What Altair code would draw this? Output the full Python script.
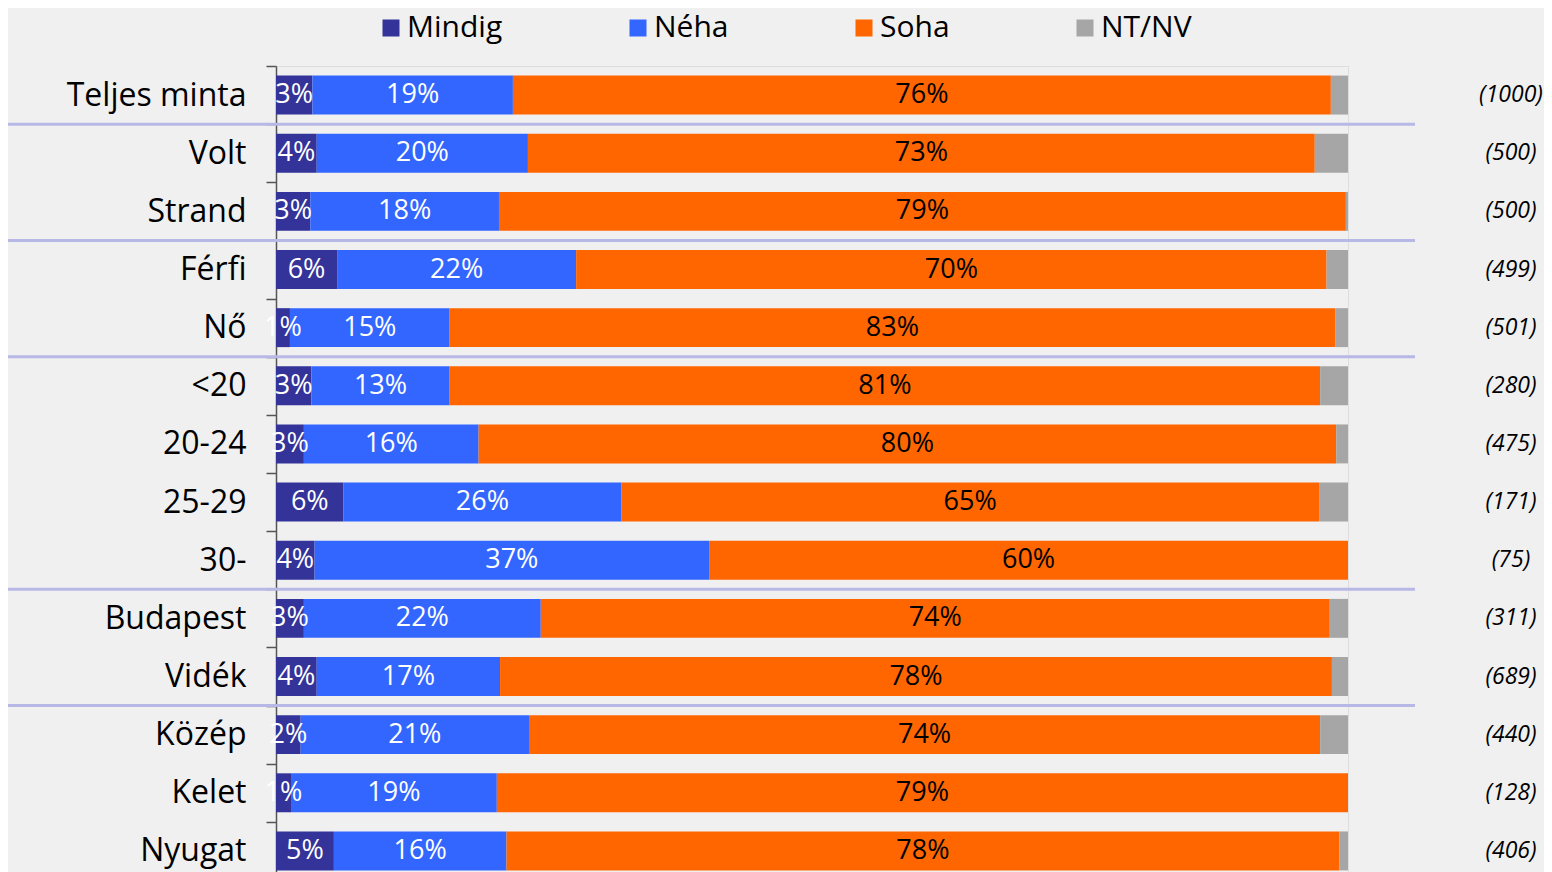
import altair as alt
import pandas as pd

categories = ["Teljes minta", "Volt", "Strand", "Férfi", "Nő", "<20", "20-24",
              "25-29", "30-", "Budapest", "Vidék", "Közép", "Kelet", "Nyugat"]
counts = ["(1000)", "(500)", "(500)", "(499)", "(501)", "(280)", "(475)",
          "(171)", "(75)", "(311)", "(689)", "(440)", "(128)", "(406)"]
answers = ["Mindig", "Néha", "Soha", "NT/NV"]
colors = ["#333399", "#3366ff", "#ff6600", "#a6a6a6"]

mindig = [3.4, 3.8, 3.2, 5.7, 1.3, 3.3, 2.6, 6.3, 3.6, 2.6, 3.8, 2.3, 1.4, 5.4]
neha = [18.7, 19.7, 17.6, 22.3, 14.9, 12.9, 16.3, 25.9, 36.8, 22.1, 17.1, 21.3, 19.2, 16.1]
soha = [76.3, 73.4, 79.0, 70.0, 82.6, 81.2, 80.0, 65.1, 59.6, 73.6, 77.6, 73.8, 79.4, 77.7]
ntnv = [1.6, 3.1, 0.2, 2.0, 1.2, 2.6, 1.1, 2.7, 0.0, 1.7, 1.5, 2.6, 0.0, 0.8]

group_starts = ["Volt", "Férfi", "<20", "Budapest", "Közép"]

rows = []
for i, cat in enumerate(categories):
    start = 0.0
    for j, (ans, vals) in enumerate(zip(answers, [mindig, neha, soha, ntnv])):
        v = vals[i]
        rows.append(dict(cat=cat, answer=ans, order=j, value=v, start=start,
                         end=start + v, mid=start + v / 2, label=f"{v:.0f}%"))
        start += v
df = pd.DataFrame(rows)
df_counts = pd.DataFrame({"cat": categories, "n": counts})
df_sep = pd.DataFrame({"cat": group_starts})

FONT = "Open Sans"
STEP_RANGE = 814

y_axis = alt.Axis(title=None, labelFont=FONT, labelFontSize=32, labelColor="#000000",
                  labelPadding=20, tickSize=10, tickColor="#555555", tickWidth=1.5,
                  domainColor="#555555", domainWidth=1.5, tickBand="extent",
                  labelLimit=0, grid=False)
y_scale = alt.Scale(domain=categories, range=[0, STEP_RANGE], paddingInner=0, paddingOuter=0)
y_enc = alt.Y("cat:N", sort=categories, scale=y_scale, axis=y_axis)
x_scale = alt.Scale(domain=[0, 100], nice=False, zero=True)

base = alt.Chart(df)

bars = base.mark_bar(height={"band": 0.67}).encode(
    y=y_enc,
    x=alt.X("start:Q", scale=x_scale, axis=None),
    x2="end:Q",
    color=alt.Color("answer:N", scale=alt.Scale(domain=answers, range=colors),
                    legend=alt.Legend(orient="none", legendX=100, legendY=-53,
                                      direction="horizontal", title=None,
                                      symbolType="square", symbolSize=289,
                                      symbolStrokeWidth=0, symbolOpacity=1,
                                      labelFont=FONT, labelFontSize=30,
                                      labelColor="#000000", labelOffset=1,
                                      columnPadding=120, padding=0)),
    order=alt.Order("order:Q"),
)

white_labels = base.transform_filter(
    alt.FieldOneOfPredicate(field="answer", oneOf=["Mindig", "Néha"])
).mark_text(font=FONT, fontSize=27, color="#ffffff", align="center", baseline="middle").encode(
    y=y_enc,
    x=alt.X("mid:Q", scale=x_scale, axis=None),
    text="label:N",
)

dark_labels = base.transform_filter(
    alt.FieldEqualPredicate(field="answer", equal="Soha")
).mark_text(font=FONT, fontSize=27, color="#000000", align="center", baseline="middle").encode(
    y=y_enc,
    x=alt.X("mid:Q", scale=x_scale, axis=None),
    text="label:N",
)

count_text = alt.Chart(df_counts).mark_text(
    font=FONT, fontSize=23, fontStyle="italic", color="#000000", align="center", baseline="middle"
).encode(
    y=y_enc,
    x=alt.value(1235),
    text="n:N",
)

seps = alt.Chart(df_sep).mark_rule(color="#b8b8e6", strokeWidth=3).encode(
    y=alt.Y("cat:N", sort=categories, scale=y_scale, axis=y_axis, bandPosition=0),
    x=alt.value(-268),
    x2=alt.value(1139),
)

chart = alt.layer(bars, white_labels, dark_labels, count_text, seps).properties(
    width=1072,
    height=806,
    autosize=alt.AutoSizeParams(type="none"),
    padding={"left": 268, "top": 58, "right": 196, "bottom": 0},
    background="#f0f0f0",
).configure_view(stroke=None).configure(font=FONT)

chart.save("out.html", embed_options={"renderer": "svg", "actions": False})
